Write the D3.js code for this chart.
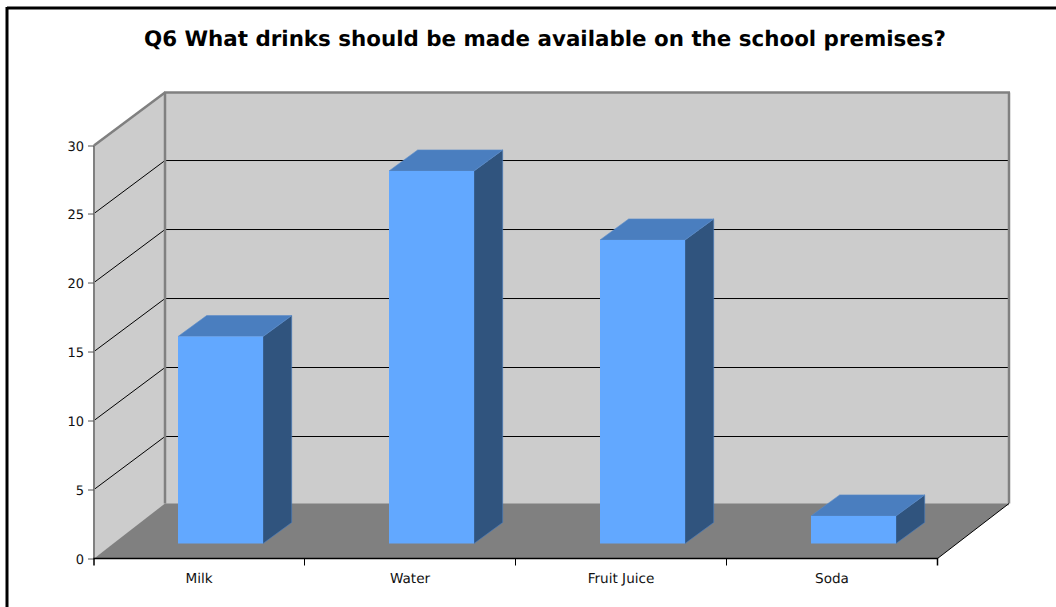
<!DOCTYPE html>
<html><head><meta charset="utf-8">
<script src="https://cdnjs.cloudflare.com/ajax/libs/d3/7.8.5/d3.min.js"></script>
<style>html,body{margin:0;padding:0;background:#fff}svg{display:block}text{font-family:"DejaVu Sans",sans-serif;text-rendering:geometricPrecision}</style>
</head><body><div id="c"></div>
<script>
const titleText = "Q6 What drinks should be made available on the school premises?";
const categories = ["Milk","Water","Fruit Juice","Soda"];
const values = [15,27,22,2];
const yTicks = [0,5,10,15,20,25,30];

const W=1056,H=607;
const svg=d3.select("#c").append("svg").attr("width",W).attr("height",H);
const x=d3.scaleBand().domain(categories).range([94,938]);
const y=d3.scaleLinear().domain([0,29.93]).range([558.5,145.5]).clamp(true);
const dx=71, dy=-53, dyFloor=-55;   // wall depth
const bx=28.7, by=-21;              // bar depth
const barInset=84, barW=85, barLift=15;
const poly=(pts,fill,stroke)=>svg.append("polygon").attr("points",pts.map(p=>p.join(",")).join(" ")).attr("fill",fill).attr("stroke",stroke||"none").attr("stroke-width",stroke?0.6:0);
const line=(x1,y1,x2,y2,c,w)=>svg.append("line").attr("x1",x1).attr("y1",y1).attr("x2",x2).attr("y2",y2).attr("stroke",c).attr("stroke-width",w);

// frame
line(7,8,W,8,"#000",3);
line(7,7,7,H,"#000",3);

const x0=x.range()[0],x1=x.range()[1],y0=y(0),yT=y(30);
// walls and floor
poly([[x0,y0],[x0+dx,y0+dy],[x0+dx,yT+dy],[x0,yT]],"#cccccc");
poly([[x0+dx,y0+dy],[x1+dx,y0+dy],[x1+dx,yT+dy],[x0+dx,yT+dy]],"#cccccc");

// gridlines
yTicks.filter(t=>t>0&&t<30).forEach(t=>{
  line(x0,y(t),x0+dx,y(t)+dy,"#000",1);
  line(x0+dx,y(t)+dy,x1+dx,y(t)+dy,"#000",1);
});
poly([[x0,y0],[x0+dx,y0+dyFloor],[x1+dx,y0+dyFloor],[x1-0.5,y0]],"#808080");
// frame of walls
line(x0,yT,x0+dx,yT+dy,"#808080",2.5);
line(x0+dx-1,yT+dy,x1+dx+1,yT+dy,"#808080",2.5);
line(x0+dx,yT+dy,x0+dx,y0+dyFloor,"#808080",2.5);
line(x1+dx,yT+dy,x1+dx,y0+dyFloor,"#808080",2.5);
line(x1-0.5,y0,x1+dx,y0+dyFloor,"#000",1);

// bars
categories.forEach((c,i)=>{
  const l=x(c)+barInset,r=l+barW,b=y0-barLift,t=b-(y0-y(values[i]));
  poly([[r,b],[r+bx,b+by],[r+bx,t+by],[r,t]],"#30547e","#4a7ebf");
  poly([[l,t],[l+bx,t+by],[r+bx,t+by],[r,t]],"#4a7ebf","#5a8cc8");
  poly([[l,b],[r,b],[r,t],[l,t]],"#62a8ff");
});

// axes
const axL=svg.append("g").attr("transform",`translate(${x0},0)`)
  .call(d3.axisLeft(y).tickValues(yTicks).tickSize(6).tickPadding(4));
axL.select(".domain").attr("stroke","#808080").attr("stroke-width",2).attr("d",`M0,${yT}V${y0}`);
axL.selectAll(".tick line").attr("stroke","#555");
axL.selectAll("text").attr("font-size",13).attr("fill","#111").attr("dy","0.42em");

const axB=svg.append("g").attr("transform",`translate(0,${y0})`)
  .call(d3.axisBottom(x).tickSize(0).tickPadding(14));
axB.select(".domain").attr("stroke","#000").attr("stroke-width",1.5).attr("d",`M${x0},0V7V0H${x1-0.5}V7`);
axB.selectAll("text").attr("font-size",13.6).attr("fill","#111").attr("dy","0.8em").attr("dx",-0.5);
axB.selectAll(".tick line").remove();
x.domain().slice(1).forEach(c=>axB.append("line").attr("x1",x(c)-0.5).attr("x2",x(c)-0.5).attr("y1",0).attr("y2",7).attr("stroke","#000"));

svg.append("text").attr("x",545).attr("y",46).attr("text-anchor","middle").attr("font-size",21.4).attr("font-weight","bold").attr("fill","#000").text(titleText);
</script></body></html>
